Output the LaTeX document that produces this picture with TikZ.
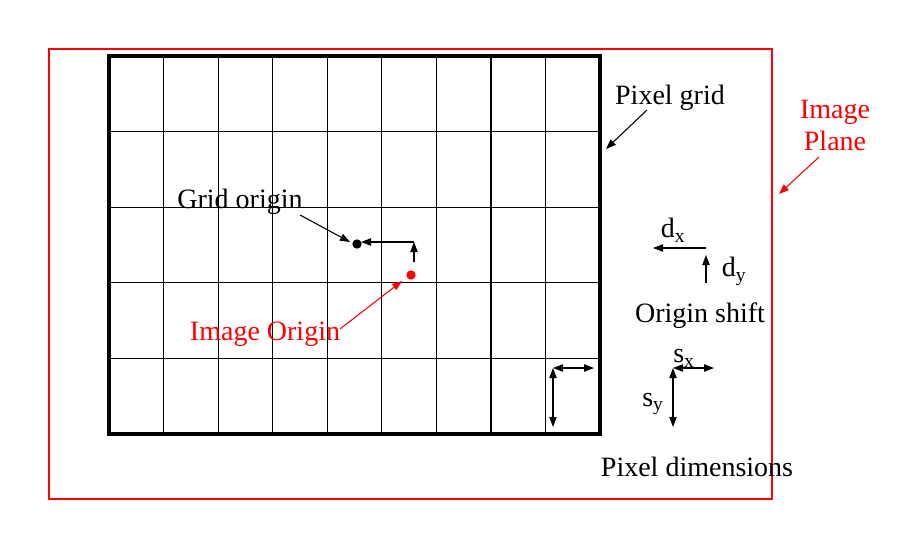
\documentclass[tikz,border=0pt]{standalone}
\usepackage{fontspec}
\setmainfont{Liberation Serif}
\usetikzlibrary{arrows.meta}
\begin{document}
\begin{tikzpicture}[x=0.75pt,y=-0.75pt,
  lbl/.style={font=\fontsize{21}{24}\selectfont, inner sep=0pt, align=center, yshift=-2.5pt},
  redlbl/.style={lbl, text=red},
  arr/.style={line width=0.8pt, -{Triangle[length=7.5pt,width=5.5pt]}},
  darr/.style={line width=0.8pt, {Triangle[length=7.5pt,width=5.5pt]}-{Triangle[length=7.5pt,width=5.5pt]}},
  gridline/.style={line width=0.9pt},
  dot/.style={circle, fill, inner sep=0pt, minimum size=7pt}]
\useasboundingbox (0,0) rectangle (922,536);
% image plane
\draw[red, line width=0.8pt] (49,49) rectangle (772,499);
% grid
\foreach \x in {163.6,218.1,272.7,327.2,381.8,436.3,490.9,545.4}
  \draw[gridline] (\x,56) -- (\x,434);
\foreach \y in {131.6,207.2,282.8,358.4}
  \draw[gridline] (109,\y) -- (600,\y);
\draw[line width=2.4pt] (109,56) rectangle (600,434);
% origins
\node[dot] (go) at (357,244) {};
\node[dot, red] (io) at (411,275) {};
\coordinate (c1) at (414,262);
\coordinate (c2) at (414,242);
\coordinate (c3) at (361,242);
\draw[arr] (c1) -- (c2);
\draw[arr] (c2.center) -- (c3);
% labels
\node[lbl] (pg) at (670,94) {Pixel grid};
\coordinate (pgs) at (647,110);
\coordinate (pgt) at (606,149);
\draw[arr] (pgs) -- (pgt);
\node[redlbl] (ip) at (835,122) {Image\\Plane};
\coordinate (ips) at (819,157);
\coordinate (ipt) at (779,194);
\draw[arr, red] (ips) -- (ipt);
\node[lbl] (gol) at (240,198) {Grid origin};
\coordinate (gos) at (300,215);
\coordinate (got) at (350,242);
\draw[arr] (gos) -- (got);
\node[redlbl] (iol) at (265,331) {Image Origin};
\coordinate (ios) at (340,329);
\coordinate (iot) at (402,281);
\draw[arr, red] (ios) -- (iot);
% origin shift
\coordinate (dxs) at (706,248);
\coordinate (dxt) at (653,248);
\draw[arr] (dxs) -- (dxt);
\node[lbl] (dxl) at (673,227) {d\textsubscript{x}};
\coordinate (dys) at (706,283);
\coordinate (dyt) at (706,255);
\draw[arr] (dys) -- (dyt);
\node[lbl] (dyl) at (734,268) {d\textsubscript{y}};
\node[lbl] (os) at (700,312) {Origin shift};
% pixel cell arrows
\coordinate (ca) at (553,368);
\coordinate (cb) at (594,368);
\coordinate (cc) at (553,427);
\draw[darr] (ca) -- (cb);
\draw[darr] (ca) -- (cc);
% pixel dimension arrows
\coordinate (pa) at (673,368);
\coordinate (pb) at (714,368);
\coordinate (pc) at (673,427);
\draw[darr] (pa) -- (pb);
\draw[darr] (pa) -- (pc);
\node[lbl] (sxl) at (684,355) {s\textsubscript{x}};
\node[lbl] (syl) at (653,401) {s\textsubscript{y}};
\node[lbl] (pd) at (697,464) {Pixel dimensions};
\end{tikzpicture}
\end{document}
